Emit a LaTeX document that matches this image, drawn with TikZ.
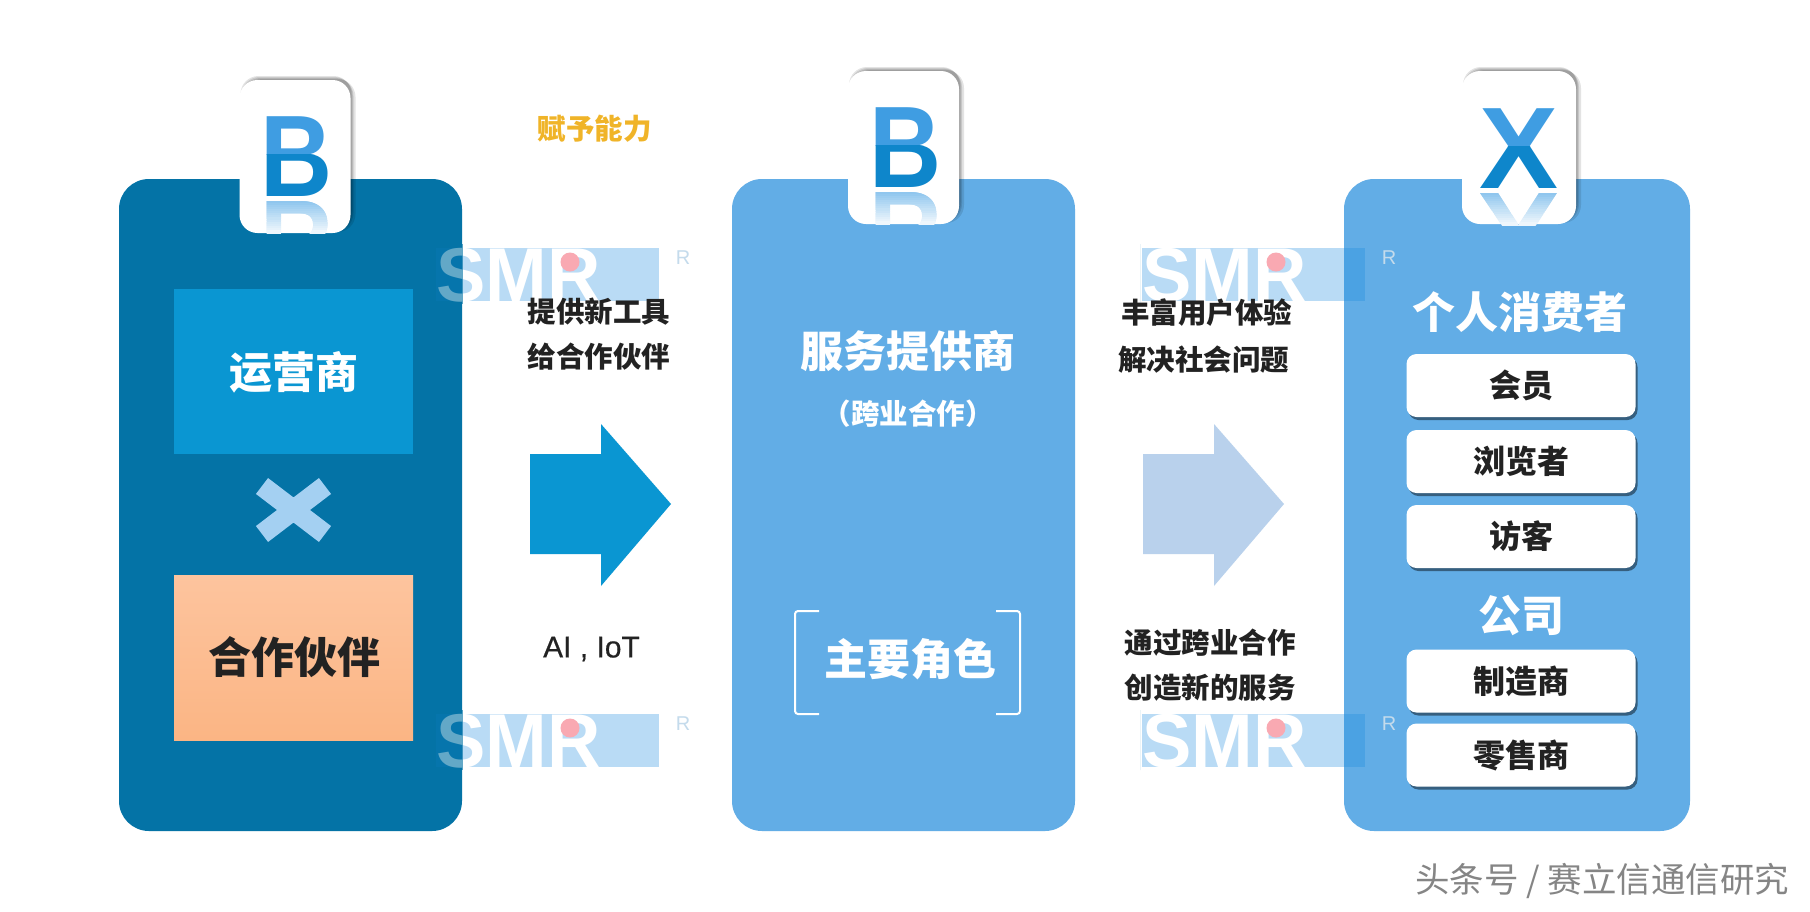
\documentclass[tikz,border=0pt]{standalone}
\usepackage{fontspec}
\usetikzlibrary{calc}
\setmainfont{Noto Sans CJK SC}
\newfontfamily\latinf{Liberation Sans}
\newfontfamily\latinm[FakeBold=0.5]{Liberation Sans}
\definecolor{pdark}{HTML}{0473A6}
\definecolor{plight}{HTML}{62ADE6}
\definecolor{sky}{HTML}{0A96D2}
\definecolor{orangeA}{HTML}{FDC49E}
\definecolor{orangeB}{HTML}{FBB584}
\definecolor{pale}{HTML}{B9D1EC}
\definecolor{ink}{HTML}{222222}
\definecolor{gold}{HTML}{F0B428}
\definecolor{wm}{RGB}{25,138,222}
\definecolor{lettA}{HTML}{3F9DE2}
\definecolor{lettB}{HTML}{0E86CB}
\definecolor{crossc}{HTML}{A4D0F2}
\definecolor{wmdot}{HTML}{F9A9B2}
\tikzset{
  every node/.style={inner sep=0pt,outer sep=0pt,align=center},
  panel/.style={rounded corners=30pt,minimum width=343pt,minimum height=652pt},
  tabcard/.style={fill=white,rounded corners=18pt,minimum width=#1,minimum height=153pt},
  tabshadow/.style={fill=black,fill opacity=0.11,rounded corners=18pt,minimum width=#1,minimum height=153pt},
  wbox/.style={fill=white,rounded corners=10pt,minimum width=229pt,minimum height=63pt,font=\bfseries\fontsize{32}{36}\selectfont,text=ink},
  wshadow/.style={fill=#1,rounded corners=10pt,minimum width=229pt,minimum height=63pt},
  lbl/.style={font=\bfseries\fontsize{28.5}{32}\selectfont,text=ink},
  big/.style={font=\bfseries\fontsize{43}{48}\selectfont,text=white},
  lett/.style={anchor=base,font=\latinf\bfseries\fontsize{116}{116}\selectfont,transform shape},
  wmtext/.style={anchor=base west,text=white,font=\latinf\bfseries\fontsize{74}{74}\selectfont,yscale=1.03,transform shape},
}
\newcommand{\TabLetter}[4]{% cx, baseline, letter, xscale
  \begin{scope}
    \clip (#1-60,#2-100) rectangle (#1+60,#2-42);
    \node[lett,xscale=#4,text=lettA] (u#1) at (#1,#2) {#3};
  \end{scope}
  \begin{scope}
    \clip (#1-60,#2-42) rectangle (#1+60,#2+1);
    \node[lett,xscale=#4,text=lettB] (l#1) at (#1,#2) {#3};
  \end{scope}
  \foreach \s in {0,...,15}{
    \begin{scope}
      \clip (#1-60,#2+3+\s*2.1) rectangle (#1+60,#2+3+\s*2.1+3);
      \pgfmathtruncatemacro{\p}{62-\s*3.5}
      \node[lett,xscale=#4,yscale=-1,text=lettA!\p!white] (r#1\s) at (#1,#2+5) {#3};
    \end{scope}
  }
}
\newcommand{\Watermark}[3]{% left x, top y, panel edge
  \fill[wm,opacity=0.3] (#1,#2+2) rectangle (#1+223,#2+55);
  \node[wmtext] (wb#1#2) at (#1,#2+55) {SMR};
  \fill[pdark,opacity=0.62] (#1-2,#2-2) rectangle (#3,#2+58);
  \fill[wmdot] (#1+134,#2+16) circle (9.5);
  \node[text=black!20!wm!25!white,font=\latinf\fontsize{20}{20}\selectfont] (wr#1#2) at (#1+247,#2+12) {R};
}
\begin{document}
\begin{tikzpicture}[x=1pt,y=-1pt]
\useasboundingbox[fill=white] (0,0) rectangle (1810,911);
% panels
\node[panel,fill=pdark] (p1) at (290.5,505) {};
\node[panel,fill=plight] (p2) at (903.5,505) {};
\node[panel,fill=plight,minimum width=346pt] (p3) at (1517,505) {};
% tabs
\foreach \n/\cx/\cy/\w in {a/295/156.5/111pt,b/903.5/147.5/111pt,c/1519/147.5/114pt}{
  \node[tabshadow=\w] (sh\n1) at (\cx+1,\cy-4) {};
  \node[tabshadow=\w] (sh\n2) at (\cx+2,\cy-3) {};
  \node[tabshadow=\w] (sh\n3) at (\cx+3,\cy-2) {};
  \node[tabshadow=\w] (sh\n4) at (\cx+5,\cy-1) {};
  \node[tabcard=\w] (tab\n) at (\cx,\cy) {};
}
\TabLetter{296.5}{196}{B}{0.86}
\TabLetter{905.5}{187}{B}{0.86}
\TabLetter{1519}{188}{X}{1.02}
% left panel content
\node[fill=sky,minimum width=239pt,minimum height=165pt] (op) at (293.5,371.5) {};
\node[big] (opt) at (293.5,372) {运营商};
\node[top color=orangeA,bottom color=orangeB,minimum width=239pt,minimum height=165pt] (pa) at (293.5,657.5) {};
\node[big,text=ink] (pat) at (294,657) {合作伙伴};
\coordinate (xc) at (293.5,510);
\draw[line width=20pt,color=crossc] ($(xc)+(-31.5,-24)$) -- ($(xc)+(31.5,24)$) ($(xc)+(-31.5,24)$) -- ($(xc)+(31.5,-24)$);
% watermarks
\Watermark{436}{246}{463}
\begin{scope}
\Watermark{1142}{246}{1140}
\end{scope}
\Watermark{436}{712}{463}
\Watermark{1142}{712}{1140}
% arrows
\fill[sky] (530,454) -- (601,454) -- (601,424) -- (671,504) -- (601,586) -- (601,554) -- (530,554) -- cycle;
\fill[pale] (1143,454) -- (1214,454) -- (1214,424) -- (1284,504) -- (1214,586) -- (1214,554) -- (1143,554) -- cycle;
% middle labels
\node[lbl,text=gold] (t0) at (594.5,129) {赋予能力};
\node[lbl] (t1) at (599,311.5) {提供新工具};
\node[lbl] (t2) at (599,357) {给合作伙伴};
\node[font=\latinm\fontsize{30}{32}\selectfont,text=ink] (t3) at (591.5,649) {AI , IoT};
\node[lbl] (t4) at (1206.5,312.5) {丰富用户体验};
\node[lbl] (t5) at (1203.5,360) {解决社会问题};
\node[lbl] (t6) at (1210,643) {通过跨业合作};
\node[lbl] (t7) at (1210,688) {创造新的服务};
% middle panel
\node[big] (s1) at (907.5,351) {服务提供商};
\node[font=\bfseries\fontsize{28.5}{32}\selectfont,text=white] (s2) at (908,414) {（跨业合作）};
\node[big] (s3) at (910,659) {主要角色};
\draw[white,line width=2pt,rounded corners=3pt] (819,611) -- (795,611) -- (795,714) -- (819,714);
\draw[white,line width=2pt,rounded corners=3pt] (996,611) -- (1020,611) -- (1020,714) -- (996,714);
% right panel
\node[big] (c1) at (1519.5,312) {个人消费者};
\foreach \n/\y/\t in {m/385.5/会员,v/461.5/浏览者,g/536.5/访客,f/681/制造商,r/755/零售商}{
  \node[wshadow=black!45!plight] (ws\n) at (1523,\y+3) {};
  \node[wbox] (w\n) at (1521,\y) {\raisebox{-1pt}{\t}};
}
\node[big] (c2) at (1521,616) {公司};
% footer
\node[anchor=east,font=\fontsize{34.5}{38}\selectfont,text=black!48] (ft) at (1789,881) {头条号 / 赛立信通信研究};
\end{tikzpicture}
\end{document}
